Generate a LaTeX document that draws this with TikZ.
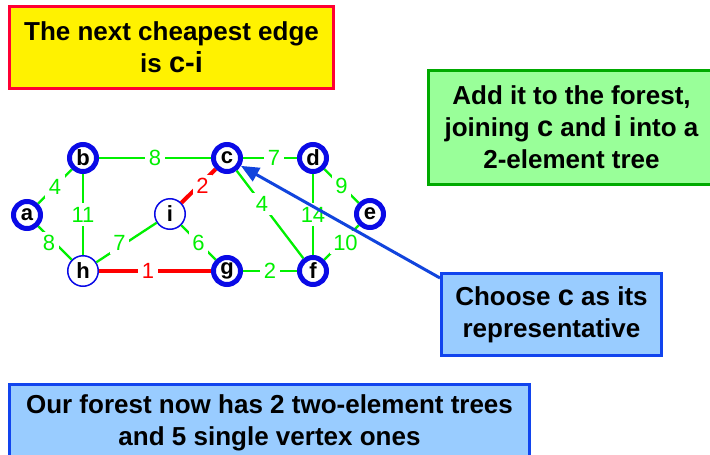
\documentclass[tikz,border=0pt]{standalone}
\usepackage{fontspec}
\setmainfont{Liberation Sans}
\usetikzlibrary{arrows.meta}
\definecolor{vblue}{RGB}{10,10,230}
\definecolor{egreen}{RGB}{0,240,0}
\definecolor{ered}{RGB}{255,0,0}
\definecolor{ybord}{RGB}{255,0,51}
\definecolor{gfill}{RGB}{153,255,153}
\definecolor{gbord}{RGB}{0,170,0}
\definecolor{bfill}{RGB}{153,204,255}
\definecolor{bbord}{RGB}{17,68,238}
\definecolor{abl}{RGB}{17,68,221}
\newcommand\bigletr[1]{{\fontsize{29}{31}\selectfont #1}}
\begin{document}
\begin{tikzpicture}[x=1pt,y=-1pt,
  vtx/.style={circle, draw=vblue, line width=5pt, minimum size=27pt, inner sep=0pt, fill=white,
    font=\fontsize{22}{22}\selectfont\bfseries},
  vthin/.style={vtx, line width=1.5pt, minimum size=30.5pt},
  edge/.style={draw=egreen, line width=2.3pt},
  redge/.style={draw=ered, line width=4.5pt},
  wt/.style={fill=white, text=egreen, inner sep=3.5pt, font=\fontsize{22}{22}\selectfont},
  rwt/.style={wt, text=ered},
  box/.style={line width=3pt, align=center, inner sep=0pt, font=\fontsize{26}{32}\selectfont\bfseries},
  ybox/.style={box, draw=ybord, fill=yellow},
  gbox/.style={box, draw=gbord, fill=gfill},
  bbox/.style={box, draw=bbord, fill=bfill}
]
\useasboundingbox (0,0) rectangle (710,455);
\fill[white] (0,0) rectangle (710,455);

% text boxes
\node[ybox, minimum width=324pt, minimum height=82pt] (title) at (171.5,47.5)
  {The next cheapest edge\\is \bigletr{c-i}};
\node[gbox, minimum width=286pt, minimum height=114pt] (add) at (571.5,127.5)
  {Add it to the forest,\\joining \bigletr{c} and \bigletr{i} into a\\2-element tree};
\node[bbox, minimum width=220pt, minimum height=82pt] (choose) at (551.5,314.5)
  {Choose \bigletr{c} as its\\representative};
\node[bbox, minimum width=520pt, minimum height=76pt] (forest) at (269.5,422.5)
  {Our forest now has 2 two-element trees\\and 5 single vertex ones};

% vertices
\node[vtx] (a) at (27,215) {a};
\node[vtx] (b) at (83,158) {b};
\node[vtx] (c) at (227,158) {c};
\node[vtx] (d) at (313,158) {d};
\node[vthin] (i) at (170,214) {i};
\node[vtx] (e) at (370,214) {e};
\node[vthin] (h) at (83,271) {h};
\node[vtx] (g) at (227,271) {g};
\node[vtx] (f) at (313,271) {f};

% edges
\draw[edge] (a) -- node[wt] {4} (b);
\draw[edge] (a) -- node[wt, xshift=-6pt] {8} (h);
\draw[edge] (b) -- node[wt] {11} (h);
\draw[edge] (b) -- node[wt] {8} (c);
\draw[edge] (c) -- node[wt, xshift=4pt] {7} (d);
\draw[redge, line width=4pt] (c) -- node[rwt, xshift=4pt] {2} (i);
\draw[edge] (h) -- node[wt, xshift=-7pt] {7} (i);
\draw[edge] (i) -- node[wt] {6} (g);
\draw[redge] (h) -- node[rwt, xshift=-7pt] {1} (g);
\draw[edge] (g) -- node[wt] {2} (f);
\draw[edge] (c) -- node[wt, pos=0.38] {4} (f);
\draw[edge] (d) -- node[wt] {14} (f);
\draw[edge] (d) -- node[wt] {9} (e);
\draw[edge] (e) -- node[wt, xshift=4pt] {10} (f);

% arrow
\draw[abl, line width=3pt, -{Triangle[length=18pt,width=15pt]}]
  ([yshift=-6pt]choose.north west) -- (c);
\end{tikzpicture}
\end{document}
